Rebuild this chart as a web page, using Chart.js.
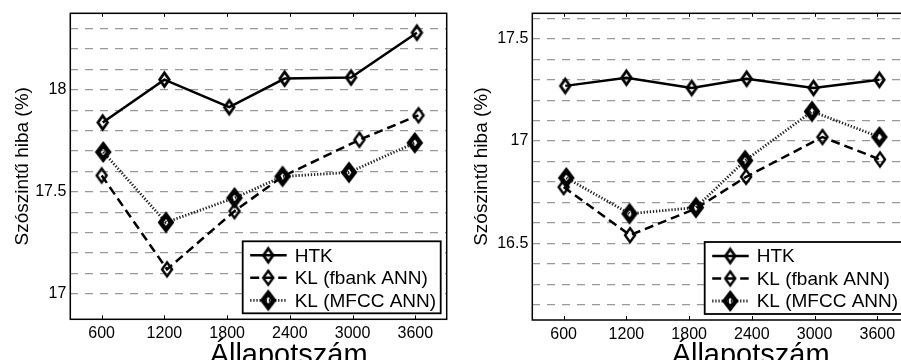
<!DOCTYPE html>
<html><head><meta charset="utf-8">
<script src="https://cdn.jsdelivr.net/npm/chart.js@4.4.0/dist/chart.umd.min.js"></script>
<style>
html,body{margin:0;padding:0;background:#fff;overflow:hidden;width:901px;height:360px;position:relative}
#wl{position:absolute;left:0;top:0;width:450px;height:360px}
#wr{position:absolute;left:450px;top:0;width:460px;height:360px}
canvas{display:block}
</style></head><body>
<div id="wl"><canvas id="cl" width="450" height="360" style="width:450px;height:360px"></canvas></div>
<div id="wr"><canvas id="cr" width="460" height="360" style="width:460px;height:360px"></canvas></div>
<script>
// ---- data ----
const xTicks = [600, 1200, 1800, 2400, 3000, 3600];
const seriesNames = ['HTK', 'KL (fbank ANN)', 'KL (MFCC ANN)'];
const xTitle = 'Állapotszám';
const yTitle = 'Szószintű hiba (%)';

const leftYLabels = [17, 17.5, 18];
const leftHtkX = [610, 1200, 1820, 2350, 2985, 3615];
const leftHtkY = [17.84, 18.05, 17.915, 18.055, 18.06, 18.28];
const leftFbX  = [600, 1225, 1870, 2330, 3065, 3630];
const leftFbY  = [17.58, 17.12, 17.405, 17.575, 17.755, 17.875];
const leftMfX  = [615, 1215, 1870, 2330, 2965, 3595];
const leftMfY  = [17.695, 17.35, 17.47, 17.575, 17.595, 17.74];

const rightYLabels = [16.5, 17, 17.5];
const rightHtkX = [615, 1200, 1825, 2350, 2990, 3620];
const rightHtkY = [17.27, 17.31, 17.26, 17.305, 17.26, 17.30];
const rightFbX  = [600, 1235, 1865, 2345, 3075, 3625];
const rightFbY  = [16.775, 16.54, 16.67, 16.825, 17.02, 16.91];
const rightMfX  = [625, 1230, 1865, 2335, 2975, 3620];
const rightMfY  = [16.82, 16.645, 16.675, 16.905, 17.145, 17.02];

// ---- styling helpers ----
const FAM = '"Liberation Sans", Arial, Helvetica, sans-serif';
function diamond(w, h, lw) {
  const c = document.createElement('canvas');
  const pad = lw * 1.6 + 1;
  c.width = Math.ceil(w + 2 * pad); c.height = Math.ceil(h + 2 * pad);
  const g = c.getContext('2d');
  const cx = c.width / 2, cy = c.height / 2;
  g.beginPath();
  g.moveTo(cx, cy - h / 2); g.lineTo(cx + w / 2, cy);
  g.lineTo(cx, cy + h / 2); g.lineTo(cx - w / 2, cy); g.closePath();
  g.lineWidth = lw; g.lineJoin = 'miter'; g.strokeStyle = '#000'; g.stroke();
  return c;
}
const mkHtk = diamond(9.5, 13.5, 2.8);
const mkFb = diamond(10, 14, 2.4);
const mkMf = diamond(11, 14.5, 4.6);

function zip(xs, ys) { return xs.map((x, i) => ({ x: x, y: ys[i] })); }

const framePlugin = {
  id: 'frame',
  afterDatasetsDraw(chart) {
    const ca = chart.chartArea, ctx = chart.ctx, xs = chart.scales.x;
    ctx.save();
    ctx.strokeStyle = '#000'; ctx.lineWidth = 1.5; ctx.setLineDash([]);
    ctx.strokeRect(ca.left, ca.top, ca.right - ca.left, ca.bottom - ca.top);
    ctx.lineWidth = 1;
    xTicks.forEach(v => {
      const px = Math.round(xs.getPixelForValue(v)) + 0.5;
      ctx.beginPath();
      ctx.moveTo(px, ca.top); ctx.lineTo(px, ca.top + 3.5);
      ctx.moveTo(px, ca.bottom); ctx.lineTo(px, ca.bottom - 4);
      ctx.stroke();
    });
    ctx.restore();
  }
};
const legendPlugin = {
  id: 'boxLegend',
  afterDraw(chart) {
    const ca = chart.chartArea, ctx = chart.ctx;
    const W = 198, H = 72;
    const x0 = ca.right - 6 - W, y0 = ca.bottom - 6 - H;
    ctx.save();
    ctx.fillStyle = '#fff'; ctx.fillRect(x0, y0, W, H);
    ctx.lineWidth = 1.8; ctx.strokeStyle = '#000'; ctx.setLineDash([]);
    ctx.strokeRect(x0, y0, W, H);
    chart.data.datasets.forEach((ds, i) => {
      const y = y0 + 14 + i * 22.5;
      ctx.beginPath();
      ctx.setLineDash(ds.borderDash || []);
      ctx.lineWidth = ds.borderWidth; ctx.strokeStyle = ds.borderColor;
      ctx.moveTo(x0 + 7.5, y); ctx.lineTo(x0 + 44, y); ctx.stroke();
      ctx.setLineDash([]);
      const img = ds.pointStyle;
      ctx.drawImage(img, x0 + 25.5 - img.width / 2, y - img.height / 2);
      ctx.fillStyle = '#000'; ctx.font = '19px ' + FAM;
      ctx.textBaseline = 'middle'; ctx.textAlign = 'left';
      ctx.fillText(ds.label, x0 + 52, y + 1);
    });
    ctx.restore();
  }
};
const xTitlePlugin = {
  id: 'xTitle',
  afterDraw(chart) {
    const ca = chart.chartArea, ctx = chart.ctx;
    ctx.save();
    ctx.fillStyle = '#000'; ctx.font = '29px ' + FAM;
    ctx.textAlign = 'center'; ctx.textBaseline = 'alphabetic';
    ctx.fillText(xTitle, ca.left + 0.58 * (ca.right - ca.left), 364);
    ctx.restore();
  }
};

function makeChart(id, sets, cfg) {
  const yMin = cfg.yMin, yMax = cfg.yMax;
  return new Chart(document.getElementById(id), {
    type: 'line',
    data: {
      datasets: [
        { label: seriesNames[0], data: zip(sets[0], sets[1]), borderColor: '#000', borderWidth: 2.5,
          borderDash: [], pointStyle: mkHtk, pointRadius: 8, pointHoverRadius: 8, fill: false, tension: 0 },
        { label: seriesNames[1], data: zip(sets[2], sets[3]), borderColor: '#000', borderWidth: 2.5,
          borderDash: [9, 5], pointStyle: mkFb, pointRadius: 8, pointHoverRadius: 8, fill: false, tension: 0 },
        { label: seriesNames[2], data: zip(sets[4], sets[5]), borderColor: '#222', borderWidth: 2.8,
          borderDash: [1.3, 1.8], pointStyle: mkMf, pointRadius: 9, pointHoverRadius: 9, fill: false, tension: 0 }
      ]
    },
    options: {
      responsive: false, animation: false, devicePixelRatio: 1,
      layout: { autoPadding: false, padding: { top: 13.3, right: cfg.padRight, left: 0, bottom: 0 } },
      plugins: { legend: { display: false }, tooltip: { enabled: false } },
      scales: {
        x: {
          type: 'linear', min: 300, max: 3900,
          afterBuildTicks: s => { s.ticks = xTicks.map(v => ({ value: v })); },
          afterFit: s => { s.height = cfg.xH; s.paddingLeft = 0; s.paddingRight = 0; },
          grid: { display: false, drawTicks: false, tickLength: 0 }, border: { display: false },
          ticks: { font: { size: 16, family: FAM }, color: '#000', padding: 5, maxRotation: 0,
                   autoSkip: false, callback: v => String(v) }
        },
        y: {
          type: 'linear', min: yMin, max: yMax,
          afterBuildTicks: s => {
            const t = [];
            for (let k = Math.ceil(yMin * 10 - 1e-9); k <= Math.floor(yMax * 10 + 1e-9); k++) t.push({ value: k / 10 });
            s.ticks = t;
          },
          afterFit: s => { s.width = cfg.yW; s.paddingTop = 0; s.paddingBottom = 0; },
          grid: {
            drawTicks: false, tickLength: 0, lineWidth: 1.3,
            color: c => (cfg.hideGrid.some(h => Math.abs(h - c.tick.value) < 1e-6) ? 'rgba(0,0,0,0)' : '#999')
          },
          border: { display: false, dash: [8, 7] },
          ticks: { font: { size: 16, family: FAM }, color: '#000', padding: cfg.yPad, autoSkip: false,
                   callback: v => (cfg.labels.some(l => Math.abs(l - v) < 1e-6) ? String(v) : '') },
          title: { display: true, text: yTitle, color: '#000', font: { size: 19, family: FAM },
                   padding: { top: cfg.titlePad, bottom: 0 } }
        }
      }
    },
    plugins: [framePlugin, legendPlugin, xTitlePlugin]
  });
}

makeChart('cl', [leftHtkX, leftHtkY, leftFbX, leftFbY, leftMfX, leftMfY],
  { yMin: 16.875, yMax: 18.375, labels: leftYLabels, hideGrid: [16.9], yW: 70.3, xH: 40.7,
    padRight: 3.3, yPad: 4, titlePad: 11.6 });
makeChart('cr', [rightHtkX, rightHtkY, rightFbX, rightFbY, rightMfX, rightMfY],
  { yMin: 16.125, yMax: 17.625, labels: rightYLabels, hideGrid: [], yW: 82.3, xH: 40,
    padRight: 1.3, yPad: 4, titlePad: 20.3 });
</script>
</body></html>
